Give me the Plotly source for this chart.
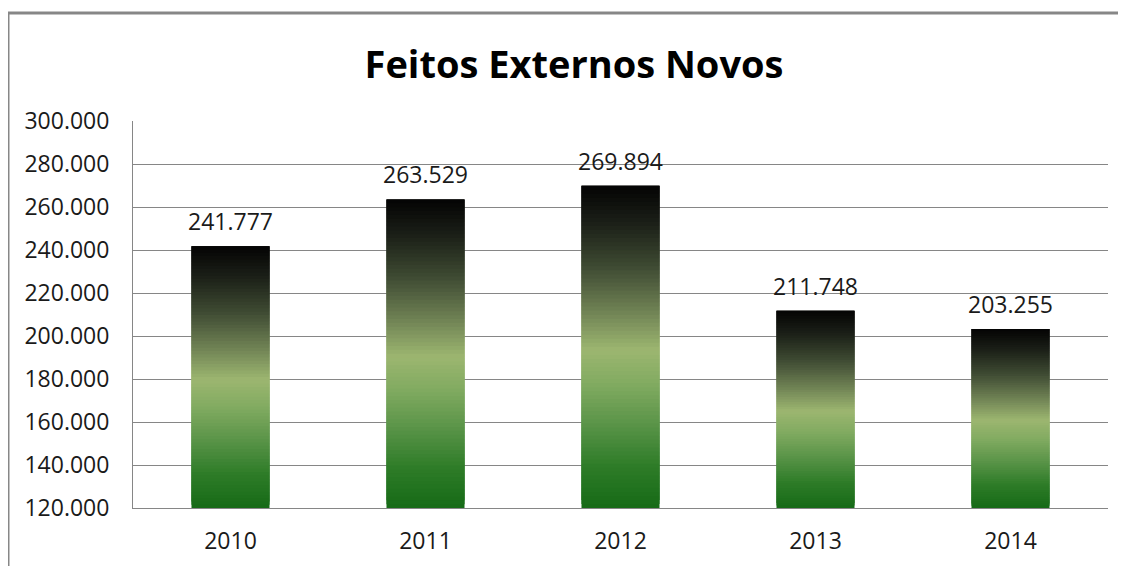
import plotly.graph_objects as go

# values
years = ["2010", "2011", "2012", "2013", "2014"]
values = [241777, 263529, 269894, 211748, 203255]
y_ticks = [120000, 140000, 160000, 180000, 200000, 220000, 240000, 260000, 280000, 300000]

Y_MIN, Y_MAX = 120000, 300000
FONT = "Open Sans"
TEXT_COLOR = "#1a1a1a"
GRID_COLOR = "#868686"
FRAME_COLOR = "#878787"

# vertical gradient of each bar, bottom -> top (fraction of bar height, colour)
GRADIENT = [
    (0.00, (22, 106, 22)),
    (0.13, (46, 124, 40)),
    (0.26, (90, 148, 72)),
    (0.38, (128, 170, 96)),
    (0.49, (156, 182, 112)),
    (0.62, (108, 126, 82)),
    (0.75, (62, 74, 50)),
    (0.88, (28, 32, 24)),
    (1.00, (4, 4, 4)),
]
N_STEPS = 80

# the page body adds an 8px margin, so the figure sits 8px right/down
OFF = 8
W, H = 1126, 566
M_L, M_R, M_T, M_B = 133 - OFF, 18 + OFF, 121 - OFF, 58 + OFF


def grad_color(f):
    for (f0, c0), (f1, c1) in zip(GRADIENT[:-1], GRADIENT[1:]):
        if f <= f1:
            t = (f - f0) / (f1 - f0)
            return "rgb(%d,%d,%d)" % tuple(round(a + (b - a) * t) for a, b in zip(c0, c1))
    return "rgb(%d,%d,%d)" % GRADIENT[-1][1]


fig = go.Figure()

# each bar is a stack of thin slices so it can carry the gradient;
# every slice reaches into the next one (never past the bar top) so no seams show
for k in range(N_STEPS):
    heights = [(v - Y_MIN) / N_STEPS for v in values]
    bases = [Y_MIN + h * k for h in heights]
    tops = [min(b + 3 * h, v) for b, h, v in zip(bases, heights, values)]
    fig.add_trace(
        go.Bar(
            x=years,
            y=[t - b for t, b in zip(tops, bases)],
            base=bases,
            width=0.4,
            marker=dict(color=grad_color((k + 0.5) / N_STEPS), line=dict(width=0)),
            hoverinfo="skip",
            showlegend=False,
        )
    )

# data labels (category axis: annotation x is the category index)
for i, v in enumerate(values):
    fig.add_annotation(
        x=i,
        y=v,
        text=f"{v:,}".replace(",", "."),
        showarrow=False,
        yanchor="bottom",
        yshift=7,
        font=dict(family=FONT, size=23, color=TEXT_COLOR),
    )

fig.update_xaxes(
    type="category",
    range=[-0.5, len(years) - 0.5],
    showgrid=False,
    showline=True,
    linecolor=GRID_COLOR,
    linewidth=1,
    ticks="",
    ticklabelstandoff=12,
    automargin=False,
    tickfont=dict(family=FONT, size=23, color=TEXT_COLOR),
)
fig.update_yaxes(
    range=[Y_MIN, Y_MAX],
    tickvals=y_ticks,
    tickformat=",d",
    showgrid=True,
    gridcolor=GRID_COLOR,
    gridwidth=1,
    showline=True,
    linecolor=GRID_COLOR,
    linewidth=1,
    zeroline=False,
    ticks="",
    ticklabelstandoff=18,
    automargin=False,
    tickfont=dict(family=FONT, size=23, color=TEXT_COLOR),
)

# outer chart frame (only the left and top edges are inside the picture)
pw, ph = W - M_L - M_R, H - M_T - M_B
fx0 = (0 - M_L) / pw
fy1 = 1 + (M_T - 5) / ph
fig.add_shape(type="line", xref="paper", yref="paper", x0=fx0, x1=fx0, y0=-1, y1=fy1,
              line=dict(color=FRAME_COLOR, width=3))
fig.add_shape(type="line", xref="paper", yref="paper", x0=fx0, x1=1.2, y0=fy1, y1=fy1,
              line=dict(color=FRAME_COLOR, width=3))

fig.update_layout(
    width=W,
    height=H,
    margin=dict(l=M_L, r=M_R, t=M_T, b=M_B, autoexpand=False),
    separators=",.",
    barmode="overlay",
    bargap=0.6,
    plot_bgcolor="white",
    paper_bgcolor="white",
    showlegend=False,
    title=dict(
        text="<b>Feitos Externos Novos</b>",
        x=(574 - OFF) / W,
        xref="container",
        xanchor="center",
        y=1 - (65 - OFF) / H,
        yref="container",
        yanchor="middle",
        font=dict(family=FONT, size=38, color="black"),
    ),
)

fig.write_html("out.html")
